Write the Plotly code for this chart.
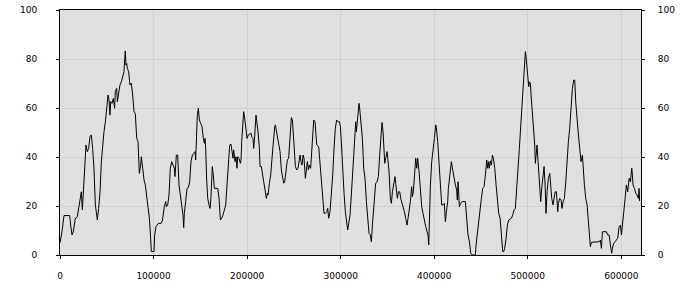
import plotly.graph_objects as go

positions = [
    0, 2100, 4300, 10300, 11400, 12800, 14200, 16400, 18500, 20000, 21400, 22800, 23900, 25000,
    26400, 27800, 29200, 30600, 32100, 33500, 34900, 36300, 37800, 39200, 39900, 41300, 42800,
    44200, 45600, 47000, 48500, 49900, 51300, 52400, 53400, 54200, 55600, 57000, 58400, 59100,
    60600, 61300, 62700, 64100, 65600, 67000, 68400, 69100, 69800, 70500, 71300, 72000, 73400,
    74800, 76200, 77700, 79100, 80500, 82000, 83400, 84800, 86200, 86900, 88400, 89800, 91200,
    92600, 94100, 95500, 96900, 97600, 100500, 101200, 102600,
    105100, 108000, 109400, 111500, 113000, 113700, 115100, 116500, 117900, 119400, 120800,
    122200, 122900, 124400, 125800, 127200, 128600, 130100, 131500, 132200, 132900, 134300,
    135800, 137200, 138600, 140000, 141500, 142900, 144300, 145000, 145700, 146800, 147900,
    149000, 150400, 151800, 153200, 154300, 155000, 155700, 156800, 157900, 159300, 160400,
    161400, 162100, 162800, 163900, 165000, 168600, 170000, 171400, 172800, 174200, 175700,
    177100, 178500, 180000, 181400, 182800, 184200, 184900, 185600, 187100, 188100, 189200,
    189900, 191300, 192800, 193500, 194200, 195300, 196300, 197000, 197800, 198800, 199900,
    201300, 204200, 204900, 206300, 207000, 207700,
    209500, 210200, 211000, 211700, 213100, 213800, 215200, 216700, 218100, 219500, 220600,
    221600, 222400, 223800, 225200, 226600, 228000, 229500, 230200, 230900, 232300, 233800,
    235200, 236600, 238000, 239100, 240200, 241600, 243000, 244400, 245500, 246600, 247300,
    248400, 249400, 250500, 251600, 253000, 254400, 255800, 256600, 257600, 258700, 259800,
    260800, 262300, 263300, 264400, 265500, 266500, 267900, 269400, 270500, 271200, 272600,
    273700, 274400, 276500, 277900, 279400, 280800, 282200, 283600, 285100, 286100, 287200,
    288600, 290100, 291500, 292900, 294300, 295700, 297200, 298600, 299700, 300700, 302200,
    303600, 305000, 306400, 307500, 308600, 310000, 311400,
    313200, 314600, 316100, 316800, 318200, 319600, 320300, 321800, 323200, 324600, 326000,
    327500, 328900, 330300, 331700, 332800, 333900, 335300, 336400, 337400, 338900, 340300,
    341700, 343100, 344200, 345300, 346000, 347100, 348100, 349600, 350300, 351700, 353100,
    354200, 355300, 356700, 358100, 358800, 359500, 360600, 361700, 363100, 364200, 365200,
    366700, 368100, 369500, 370900, 372000, 373100, 374500, 375900, 376600, 377700, 378800,
    380200, 381300, 382300, 383800, 385200, 386600, 388000, 389500, 390900, 392300, 393400,
    394100, 394800, 395900, 397300, 398700, 400200, 401600, 402300, 403700, 405100, 406600,
    408000, 409400, 410800, 411900, 413000, 414400, 415100,
    416900, 418300, 419800, 421200, 422600, 424000, 424700, 425500, 426200, 426900, 428300,
    429700, 433300, 434700, 436100, 437600, 439000, 440400, 444000, 444700, 446100, 447500,
    449000, 450400, 451800, 453300, 454700, 455400, 456100, 457200, 458200, 458900, 460000,
    461100, 462200, 463200, 464700, 466100, 467500, 468900, 470400, 471800, 473200, 474300,
    475300, 476800, 478200, 479600, 482500, 483900, 485300, 486700, 488200, 489600, 491000,
    492400, 493900, 495300, 496700, 497400, 498100, 498900, 499900, 501000, 501700, 502800,
    503500, 504600, 506000, 507400, 508100, 509200, 509900, 511000, 512400, 513800, 514900,
    516000, 517400,
    518500, 519500, 520600, 522000, 523500, 524200, 525600, 527000, 527700, 529200, 530600,
    532000, 532700, 534100, 535600, 536600, 537700, 539100, 540600, 542000, 543400, 544800,
    546300, 547700, 549100, 550200, 551200, 552700, 554100, 555500, 556900, 558400, 559100,
    560500, 561900, 563400, 564800, 566200, 566900, 568000, 576200, 577600, 578700, 579800,
    584000, 585400, 586900, 588300, 589700, 590400, 591900, 593300, 596100, 597600, 599000,
    600100, 601100, 602600, 604000, 605400, 606800, 608300, 609700, 611100, 611800, 612500,
    614000, 615400, 616800, 618200, 618900, 619500,
]

values = [
    5.0, 9.5, 16.1, 16.1, 12.2, 8.2, 9.5, 15.0, 15.6, 19.0, 23.1, 25.8, 18.4, 25.8,
    32.7, 44.9, 42.2, 43.5, 48.3, 49.0, 43.5, 35.4, 20.4, 15.0, 14.3, 19.0, 25.8,
    38.1, 46.3, 50.3, 54.4, 61.2, 65.3, 63.3, 57.1, 62.6, 61.9, 63.9, 59.9, 66.7,
    68.0, 62.6, 65.3, 69.4, 70.7, 73.5, 74.8, 79.6, 83.3, 77.5, 78.2, 76.2, 74.8,
    69.4, 70.1, 65.3, 58.5, 57.8, 47.6, 46.3, 33.3, 36.7, 40.1, 35.4, 30.6, 28.6,
    24.5, 19.7, 15.0, 6.8, 1.4, 1.4, 8.2, 11.6,
    12.9, 12.9, 13.9, 19.7, 21.8, 19.7, 20.4, 24.5, 35.4, 38.1, 36.7,
    35.4, 32.0, 40.8, 40.8, 28.6, 24.5, 20.4, 16.3, 11.2, 17.0, 21.8,
    27.2, 27.5, 29.9, 38.1, 40.8, 41.5, 42.2, 38.8, 45.6, 57.1, 59.9,
    55.1, 53.7, 52.4, 47.6, 45.6, 47.6, 43.5, 30.6, 23.1, 20.4, 19.0,
    23.8, 31.3, 36.1, 32.7, 27.2, 27.2, 23.1, 14.3, 15.0, 16.3, 19.0,
    20.4, 28.6, 39.5, 44.9, 45.2, 42.2, 39.5, 42.9, 38.1, 40.1, 35.4,
    40.1, 39.5, 37.4, 38.8, 46.3, 53.1, 58.5, 57.1, 54.4, 51.0, 47.6,
    49.0, 49.7, 48.3, 47.6, 43.5, 46.3,
    57.1, 55.1, 52.4, 50.3, 43.5, 36.1, 36.1, 32.7, 29.9, 26.5, 23.1,
    25.2, 24.5, 29.3, 32.7, 39.5, 47.6, 52.4, 53.1, 51.7, 49.0, 45.6,
    42.2, 34.7, 31.3, 29.3, 29.9, 34.7, 38.8, 39.5, 46.9, 54.4, 56.1,
    55.1, 46.9, 42.9, 36.1, 34.7, 35.4, 38.8, 40.8, 38.1, 36.7, 40.8,
    39.5, 31.3, 35.4, 38.1, 34.7, 36.7, 35.4, 44.9, 49.7, 55.1, 54.4,
    47.6, 44.9, 44.2, 38.1, 30.6, 23.1, 17.0, 17.0, 17.7, 19.0, 15.0,
    17.7, 25.2, 32.7, 43.5, 51.7, 55.1, 54.4, 54.4, 52.4, 46.3, 34.0,
    25.2, 17.7, 12.2, 10.2, 12.9, 16.3, 24.5,
    38.1, 47.6, 54.4, 50.3, 57.1, 61.9, 59.9, 51.7, 47.6, 35.4, 31.3,
    21.8, 13.6, 8.8, 8.2, 5.4, 12.2, 20.4, 27.9, 29.3, 29.9, 32.0,
    40.8, 47.6, 54.1, 50.3, 43.5, 37.4, 39.5, 42.2, 39.5, 34.0, 23.1,
    21.1, 25.8, 29.9, 32.0, 29.3, 25.2, 23.1, 25.8, 25.8, 23.1, 21.8,
    20.4, 17.7, 15.0, 12.2, 15.0, 17.7, 21.8, 27.9, 23.8, 25.8, 32.7,
    39.5, 35.4, 39.5, 34.0, 25.8, 19.7, 17.0, 13.6, 11.6, 9.5, 8.2,
    4.1, 15.0, 28.6, 38.1, 42.2, 47.6, 53.1, 52.0, 46.3, 39.5, 28.6,
    20.4, 20.4, 21.1, 13.6, 17.7, 21.8, 27.2,
    34.0, 38.1, 34.7, 31.3, 28.6, 26.5, 22.4, 29.9, 23.1, 19.7, 21.1,
    21.8, 21.8, 13.6, 8.2, 5.4, 0.7, 0.0, 0.0, 4.1, 9.5, 15.0,
    19.0, 23.1, 27.2, 27.9, 32.7, 35.4, 38.8, 35.4, 38.1, 35.4, 38.4,
    36.7, 40.8, 39.5, 35.4, 28.6, 21.8, 17.0, 15.0, 8.2, 1.4, 1.4,
    2.7, 6.8, 12.2, 14.3, 15.0, 16.3, 18.4, 19.0, 25.8, 35.4, 43.5,
    51.7, 59.9, 68.0, 79.6, 83.0, 80.9, 78.2, 72.1, 68.7, 70.7, 70.1,
    65.3, 59.9, 51.7, 44.9, 37.4, 40.8, 44.9, 38.1, 28.6, 21.8, 27.2,
    32.7, 36.1,
    28.6, 17.0, 25.8, 31.3, 33.3, 28.6, 23.1, 20.4, 23.1, 25.8, 25.8,
    17.7, 21.1, 23.1, 22.4, 19.0, 21.8, 23.1, 29.9, 39.5, 46.3, 51.7,
    61.2, 68.0, 71.4, 71.4, 62.6, 54.4, 49.0, 43.5, 38.1, 40.8, 35.4,
    28.6, 23.1, 20.4, 13.6, 4.8, 3.4, 5.2, 5.4, 6.1, 2.7, 9.5,
    9.5, 8.2, 8.2, 4.1, 0.7, 2.7, 4.8, 5.4, 6.8, 11.6, 12.2,
    8.2, 13.6, 17.7, 23.1, 28.6, 25.8, 31.3, 29.9, 35.4, 32.7, 28.6,
    27.2, 25.2, 24.5, 23.1, 27.2, 22.0,
]

x_ticks = [0, 100000, 200000, 300000, 400000, 500000, 600000]
x_tick_labels = ["0", "100000", "200000", "300000", "400000", "500000", "600000"]
y_ticks = [0, 20, 40, 60, 80, 100]
y_tick_labels = ["0", "20", "40", "60", "80", "100"]

font = dict(family="DejaVu Sans", size=9, color="#000000")

fig = go.Figure()
fig.add_trace(go.Scatter(
    x=positions, y=values, mode="lines",
    line=dict(color="#000000", width=1),
    showlegend=False, hoverinfo="skip",
))
# empty helper trace so that the right-hand y axis gets drawn
fig.add_trace(go.Scatter(
    x=[None], y=[None], yaxis="y2", mode="lines",
    showlegend=False, hoverinfo="skip",
))

axis_common = dict(
    showline=True, linecolor="#000000", linewidth=1,
    ticks="outside", ticklen=3, tickwidth=1, tickcolor="#000000",
    zeroline=False, tickfont=font, automargin=False,
)

fig.update_layout(
    width=700, height=300,
    margin=dict(l=60, r=59, t=10, b=45, pad=0),
    paper_bgcolor="#ffffff", plot_bgcolor="#e0e0e0",
    xaxis=dict(
        range=[0, 621000], tickvals=x_ticks, ticktext=x_tick_labels,
        showgrid=True, gridcolor="#d0d0d0", gridwidth=1,
        mirror=True, ticklabelstandoff=9, **axis_common,
    ),
    yaxis=dict(
        range=[0, 100], tickvals=y_ticks, ticktext=y_tick_labels,
        showgrid=True, gridcolor="#d0d0d0", gridwidth=1,
        mirror=True, ticklabelstandoff=17, **axis_common,
    ),
    yaxis2=dict(
        range=[0, 100], tickvals=y_ticks, ticktext=y_tick_labels,
        overlaying="y", side="right", showgrid=False,
        ticklabelstandoff=11, **axis_common,
    ),
)

fig.write_html("out.html")
